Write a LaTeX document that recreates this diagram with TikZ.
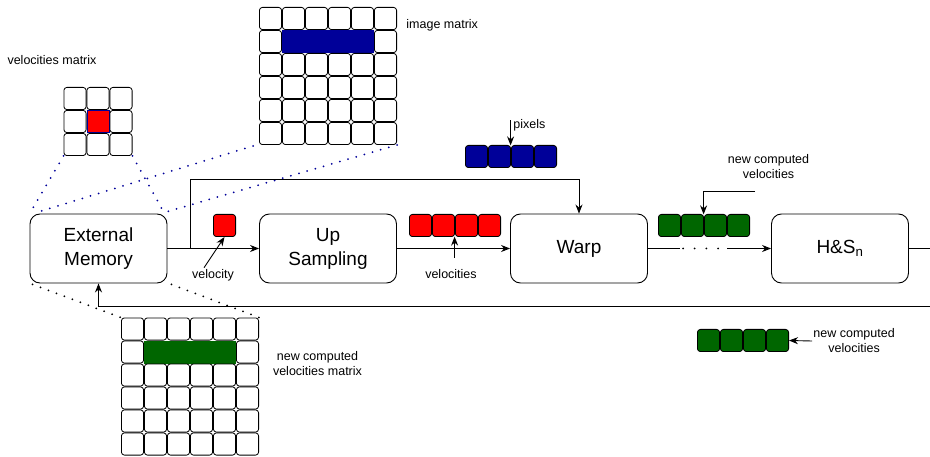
\documentclass[tikz,border=0pt]{standalone}
\usepackage{fontspec}
\setmainfont{Liberation Sans}
\usetikzlibrary{matrix,arrows.meta,calc}
\newcommand{\cellunit}{22.2pt}
\newcommand{\boxfont}{\fontsize{19}{24}\selectfont}
\newcommand{\lblfont}{\fontsize{12.5}{15}\selectfont}
\definecolor{pixblue}{HTML}{000099}
\definecolor{velred}{HTML}{FF0000}
\definecolor{velgreen}{HTML}{006600}
\tikzset{
    block style/.style={draw,rounded corners=10pt,minimum width=137pt,minimum height=69pt,align=center,font=\boxfont,line width=0.9pt},
    cell style/.style={draw,rounded corners=3pt,minimum size=\cellunit,inner sep=0pt,outer sep=0pt,line width=0.8pt},
    grid style/.style={matrix of nodes,nodes in empty cells,nodes={cell style},inner sep=0pt,outer sep=0pt,row sep=0pt,column sep=0pt},
    label style/.style={font=\lblfont,align=center,inner sep=1pt},
    zoom line/.style={line width=2pt,line cap=round,dash pattern=on 0pt off 8.5pt},
    fill blue/.style={fill=pixblue,draw=pixblue,sharp corners},
    fill green/.style={fill=velgreen,draw=velgreen,sharp corners},
    fill red/.style={fill=velred,draw=pixblue,sharp corners},
}

\begin{document}
\begin{tikzpicture}[x=1pt,y=-1pt,>={Stealth[length=9pt,width=7pt]},line width=0.9pt]
  \useasboundingbox (0,0) rectangle (930,457);

  % main row
  \node[block style] (em)   at (98.5,248.5) {External\\Memory};
  \node[block style] (up)   at (328,248.5)  {Up\\Sampling};
  \node[block style] (warp) at (579,248.5)  {Warp};
  \node[block style] (hs)   at (840,248.5)  {H\&S\textsubscript{n}};

  % matrices
  \matrix (vm) [grid style] at (98,121.5)
  { && \\
    & |[fill red]| & \\
    && \\
  };
  \node[label style] (lblvm) at (52,60) {velocities matrix};

  \matrix (im) [grid style] at (328,76)
  { &&&&& \\
    & |[fill blue]| & |[fill blue]| & |[fill blue]| & |[fill blue]| & \\
    &&&&& \\
    &&&&& \\
    &&&&& \\
    &&&&& \\
  };
  \node[label style,anchor=west] (lblim) at (405,25) {image matrix};

  \matrix (nm) [grid style] at (190,386.5)
  { &&&&& \\
    & |[fill green]| & |[fill green]| & |[fill green]| & |[fill green]| & \\
    &&&&& \\
    &&&&& \\
    &&&&& \\
    &&&&& \\
  };
  \node[label style] (lblnm) at (317.5,363.5) {new computed\\velocities matrix};

  % data rows
  \matrix (v1) [grid style,nodes={fill=velred}] at (224.5,225.5) { \\ };
  \matrix (vr) [grid style,nodes={fill=velred}] at (455,225.5) { &&& \\ };
  \matrix (pr) [grid style,nodes={fill=pixblue}] at (511,156.5) { &&& \\ };
  \matrix (gt) [grid style,nodes={fill=velgreen}] at (704,225.5) { &&& \\ };
  \matrix (gb) [grid style,nodes={fill=velgreen}] at (743,340.5) { &&& \\ };

  \node[label style] (lblv)  at (213,275) {velocity};
  \node[label style] (lblvr) at (451,274) {velocities};
  \node[label style,anchor=west] (lblpr) at (512,125) {pixels};
  \node[label style] (lblgt) at (768.5,167) {new computed\\velocities};
  \node[label style,anchor=west] (lblgb) at (812,341) {new computed\\velocities};

  % zoom lines
  \draw[zoom line,pixblue] (vm.south west) -- (em.north west);
  \draw[zoom line,pixblue] (vm.south east) -- ($(em.north east)+(-4,-2)$);
  \draw[zoom line,pixblue] ($(im.south west)+(-6,1)$) -- ($(em.north west)+(10,-2)$);
  \draw[zoom line,pixblue] (im.south east) -- ($(em.north east)+(0,-2)$);
  \draw[zoom line] ($(em.south west)+(3,1)$) -- (nm.north west);
  \draw[zoom line] ($(em.south east)+(4,1)$) -- (nm.north east);

  % connectors
  \coordinate (br)    at (190,248.5);
  \coordinate (brtop) at (190,179);
  \coordinate (d1)    at (680,248.5);
  \coordinate (d2)    at (727,248.5);
  \coordinate (hsout) at (930,248.5);
  \coordinate (ret)   at (930,306);
  \coordinate (gtin)  at (755,191);

  \draw[->] (em) -- (up);
  \draw[->] (br) -- (brtop) -| (warp.north);
  \draw[->] (up) -- (warp);
  \draw (warp) -- (d1);
  \draw[line width=2pt,line cap=round,dash pattern=on 0pt off 11.7pt] ($(d1)+(3,0)$) -- ($(d2)+(-8,0)$);
  \draw[->] (d2) -- (hs);
  \draw (hs) -- (hsout);
  \draw[->] (ret) -| (em.south);

  \draw[->] ($(lblv.north)+(-9,0)$) -- (v1.south);
  \draw[->] ($(vr-1-2.south east)+(0,21)$) -- (vr-1-2.south east);
  \draw[->] ($(pr-1-2.north east)+(0,-25)$) -- (pr-1-2.north east);
  \draw[->] (gtin) -| (gt-1-2.north east);
  \draw[->] (lblgb.west) -- (gb.east);
\end{tikzpicture}
\end{document}
